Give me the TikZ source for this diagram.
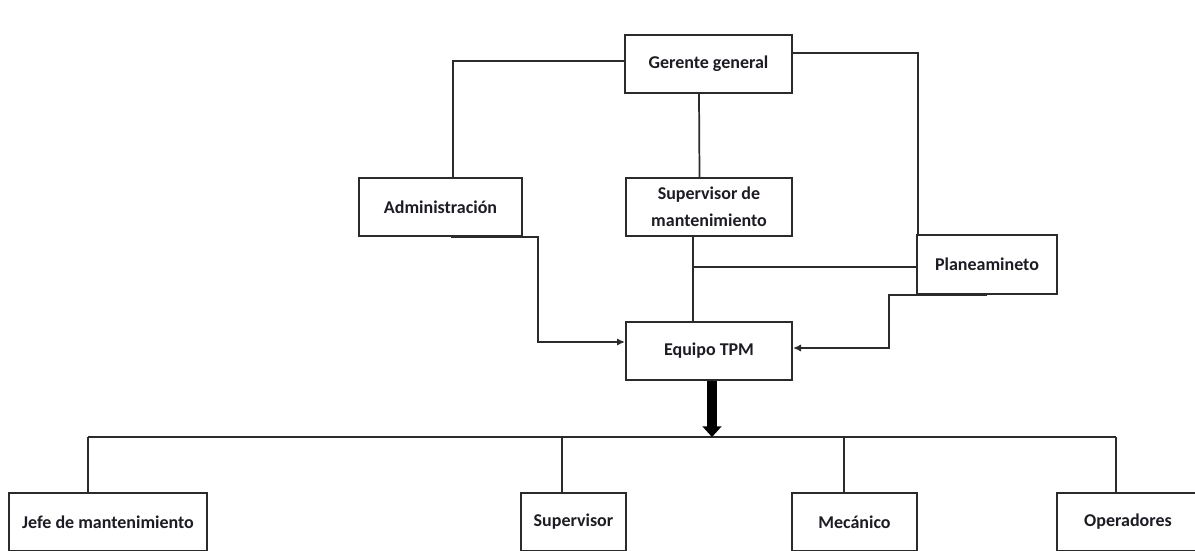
\documentclass[tikz,border=0pt]{standalone}
\usepackage{fontspec}
\setmainfont{Carlito}
\usetikzlibrary{arrows.meta,calc}
\definecolor{Ink}{HTML}{1C1C24}
\definecolor{Edge}{HTML}{2B2B2B}
\tikzset{
  orgbox/.style={draw=Edge,line width=1.5pt,minimum height=43.5pt,inner sep=0pt,align=center,fill=white,text=Ink,font=\bfseries\fontsize{13.5}{20}\selectfont},
  link/.style={draw=Edge,line width=1.3pt},
  thinArrow/.style={link,-{Latex[length=6pt,width=5.5pt]}},
  bigArrow/.style={draw=black,line width=7.5pt,-{Triangle[length=8pt,width=14pt]}}
}
\begin{document}
\begin{tikzpicture}[x=0.75pt,y=-0.75pt]
  \useasboundingbox (0,0) rectangle (1195,550);
  \clip (0,0) rectangle (1195,550);
  % upper part
  \node[orgbox,minimum width=125.3pt] (ger) at (708.5,64) {Gerente general};
  \node[orgbox,minimum width=122.3pt] (adm) at (440.5,207) {Administración};
  \node[orgbox,minimum width=124.5pt] (sup) at (709,207) {Supervisor de\\mantenimiento};
  \node[orgbox,minimum width=105pt,minimum height=44.3pt] (pla) at (987,264.5) {Planeamineto};
  \node[orgbox,minimum width=124.5pt] (tpm) at (709,351) {Equipo TPM};
  % links
  \draw[link] ($(ger.west)+(0,-3)$) -| ($(adm.north)+(12.5,0)$);
  \draw[link] ($(ger.east)+(0,-11)$) -| ($(pla.north west)+(2,0)$);
  \draw[link] ($(ger.south)+(-9.5,0)$) -- ($(sup.north)+(-9.5,0)$);
  \coordinate (jn) at ($(sup.south)+(-16,0)$);
  \coordinate (pw) at ($(pla.west)+(0,2.5)$);
  \draw[link] (jn) -- (jn |- tpm.north);
  \draw[link] (pw) -- (jn |- pw);
  \draw[thinArrow] ($(adm.south)+(10,0)$) -- ++(87.5,0) |- ($(tpm.west)+(0,-9)$);
  \draw[thinArrow] (pla.south) -- ++(-98,0) |- ($(tpm.east)+(0,-3)$);
  % lower part
  \node[orgbox,minimum width=148.5pt] (jefe) at (108,522) {Jefe de mantenimiento};
  \node[orgbox,minimum width=78.8pt] (supv) at (573.5,522) {Supervisor};
  \node[orgbox,minimum width=93.8pt] (mec) at (854.5,522) {Mecánico};
  \node[orgbox,minimum width=106.5pt] (ope) at (1128,522) {Operadores};
  \coordinate (bus) at (712,437);
  \foreach \n/\d in {jefe/-20,supv/-11.5,mec/-10.5,ope/-12}{
    \coordinate (d\n) at ($(\n.north)+(\d,0)$);
    \draw[link] (d\n) -- (d\n |- bus);
  }
  \draw[link] (djefe |- bus) -- (dope |- bus);
  \draw[bigArrow] (tpm.south -| bus) -- (bus);
\end{tikzpicture}
\end{document}
